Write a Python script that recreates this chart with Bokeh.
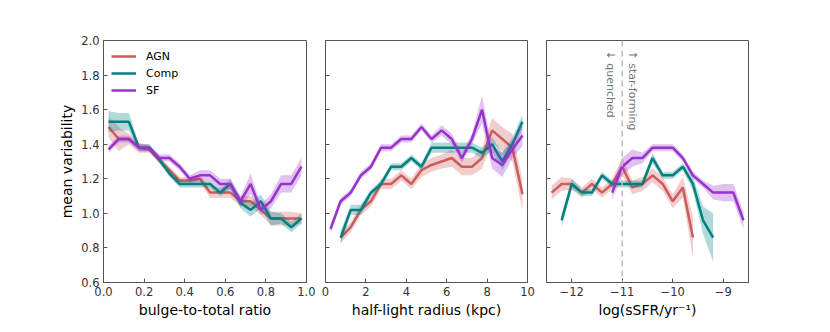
import math
from bokeh.plotting import figure
from bokeh.layouts import row
from bokeh.models import Range1d, FixedTicker, Span, Label, CustomJSTickFormatter
from bokeh.embed import file_html
from bokeh.resources import INLINE

FONT = "DejaVu Sans"
AGN_C = "#cd5c5c"
COMP_C = "#008080"
SF_C = "#9932cc"

# ---- panel 1: bulge-to-total ratio ----
bt_x = [0.025, 0.075, 0.125, 0.175, 0.225, 0.275, 0.325, 0.375, 0.425, 0.475,
        0.525, 0.575, 0.625, 0.675, 0.725, 0.775, 0.825, 0.875, 0.925, 0.975]
bt_agn = [1.50, 1.43, 1.43, 1.38, 1.37, 1.31, 1.25, 1.19, 1.19, 1.20,
          1.12, 1.12, 1.12, 1.07, 1.07, 1.02, 0.97, 0.97, 0.97, 0.97]
bt_agn_err = [0.06, 0.07, 0.03, 0.03, 0.02, 0.02, 0.02, 0.02, 0.02, 0.02,
              0.03, 0.03, 0.03, 0.03, 0.03, 0.03, 0.04, 0.04, 0.04, 0.03]
bt_comp = [1.53, 1.53, 1.53, 1.38, 1.38, 1.31, 1.23, 1.17, 1.17, 1.17,
           1.17, 1.12, 1.17, 1.06, 1.02, 1.07, 0.97, 0.97, 0.92, 0.97]
bt_comp_err = [0.06, 0.05, 0.05, 0.02, 0.02, 0.02, 0.02, 0.02, 0.02, 0.02,
               0.02, 0.02, 0.03, 0.03, 0.04, 0.04, 0.04, 0.03, 0.03, 0.03]
bt_sf = [1.37, 1.43, 1.43, 1.38, 1.38, 1.32, 1.32, 1.27, 1.20, 1.22,
         1.22, 1.17, 1.17, 1.07, 1.17, 1.02, 1.07, 1.17, 1.17, 1.27]
bt_sf_err = [0.02, 0.02, 0.02, 0.02, 0.02, 0.02, 0.02, 0.02, 0.02, 0.03,
             0.03, 0.03, 0.03, 0.03, 0.06, 0.03, 0.04, 0.05, 0.05, 0.05]

# ---- panel 2: half-light radius ----
hl_x = [0.25, 0.75, 1.25, 1.75, 2.25, 2.75, 3.25, 3.75, 4.25, 4.75,
        5.25, 5.75, 6.25, 6.75, 7.25, 7.75, 8.25, 8.75, 9.25, 9.75]
hl_agn_x = hl_x[1:]
hl_agn = [0.86, 0.92, 1.02, 1.07, 1.17, 1.17, 1.22, 1.17, 1.25,
          1.28, 1.30, 1.32, 1.27, 1.27, 1.32, 1.48, 1.43, 1.38, 1.11]
hl_agn_err = [0.03, 0.03, 0.03, 0.03, 0.03, 0.03, 0.03, 0.03, 0.04,
              0.04, 0.04, 0.05, 0.05, 0.05, 0.06, 0.07, 0.07, 0.08, 0.09]
hl_comp_x = hl_x[1:]
hl_comp = [0.86, 1.02, 1.02, 1.12, 1.17, 1.27, 1.27, 1.32, 1.27,
           1.38, 1.38, 1.38, 1.38, 1.38, 1.35, 1.40, 1.30, 1.40, 1.53]
hl_comp_err = [0.04, 0.03, 0.03, 0.02, 0.02, 0.02, 0.02, 0.02, 0.02,
               0.03, 0.03, 0.03, 0.03, 0.03, 0.03, 0.04, 0.05, 0.04, 0.04]
hl_sf = [0.91, 1.07, 1.12, 1.22, 1.27, 1.38, 1.38, 1.43, 1.43, 1.50,
         1.43, 1.48, 1.43, 1.32, 1.43, 1.60, 1.32, 1.28, 1.37, 1.45]
hl_sf_err = [0.03, 0.02, 0.02, 0.02, 0.02, 0.02, 0.02, 0.02, 0.02, 0.02,
             0.02, 0.03, 0.03, 0.03, 0.03, 0.08, 0.06, 0.07, 0.05, 0.06]

# ---- panel 3: log sSFR ----
ss_agn_x = [-12.4, -12.2, -12.0, -11.8, -11.6, -11.4, -11.2, -11.0,
            -10.8, -10.6, -10.4, -10.2, -10.0, -9.8, -9.6]
ss_agn = [1.12, 1.17, 1.17, 1.12, 1.17, 1.12, 1.17, 1.27,
          1.15, 1.17, 1.22, 1.17, 1.07, 1.15, 0.86]
ss_agn_err = [0.04, 0.04, 0.03, 0.03, 0.03, 0.03, 0.03, 0.05,
              0.04, 0.04, 0.04, 0.04, 0.04, 0.06, 0.12]
ss_comp_x = [-12.2, -12.0, -11.8, -11.6, -11.4, -11.2, -11.0, -10.8,
             -10.6, -10.4, -10.2, -10.0, -9.8, -9.6, -9.4, -9.2]
ss_comp = [0.96, 1.17, 1.12, 1.12, 1.22, 1.17, 1.17, 1.17,
           1.17, 1.32, 1.22, 1.22, 1.27, 1.17, 0.96, 0.86]
ss_comp_err = [0.04, 0.03, 0.02, 0.02, 0.02, 0.02, 0.02, 0.02,
               0.02, 0.03, 0.02, 0.02, 0.02, 0.04, 0.08, 0.14]
ss_sf_x = [-11.2, -11.0, -10.8, -10.6, -10.4, -10.2, -10.0, -9.8,
           -9.6, -9.4, -9.2, -9.0, -8.8, -8.6]
ss_sf = [1.12, 1.27, 1.32, 1.32, 1.38, 1.38, 1.38, 1.32,
         1.22, 1.17, 1.12, 1.12, 1.12, 0.96]
ss_sf_err = [0.04, 0.05, 0.05, 0.03, 0.02, 0.02, 0.02, 0.02,
             0.02, 0.02, 0.04, 0.05, 0.05, 0.05]

y_ticks = [0.6, 0.8, 1.0, 1.2, 1.4, 1.6, 1.8, 2.0]
FRAME = "#555555"
TEXT = "#333333"


def make_fig(width, left, right, xr, xticks, xlabel, ylabels=True):
    p = figure(width=width, height=324, output_backend="svg", toolbar_location=None,
               x_range=Range1d(*xr), y_range=Range1d(0.6, 2.0),
               min_border_left=left, min_border_right=right,
               min_border_top=40, min_border_bottom=42)
    p.grid.visible = False
    p.outline_line_color = FRAME
    p.outline_line_width = 1
    p.outline_line_alpha = 1
    p.background_fill_color = "white"
    p.border_fill_color = "white"
    for ax in (p.xaxis[0], p.yaxis[0]):
        ax.axis_line_color = FRAME
        ax.major_tick_line_color = FRAME
        ax.major_tick_in = 4
        ax.major_tick_out = 0
        ax.minor_tick_line_color = None
        ax.major_label_text_font = FONT
        ax.major_label_text_font_size = "11.5px"
        ax.major_label_text_color = TEXT
        ax.axis_label_text_font = FONT
        ax.axis_label_text_font_size = "14px"
        ax.axis_label_text_font_style = "normal"
        ax.axis_label_text_color = "black"
        ax.major_label_standoff = 4
        ax.axis_label_standoff = 3
    p.xaxis.ticker = FixedTicker(ticks=xticks)
    p.yaxis.ticker = FixedTicker(ticks=y_ticks)
    p.xaxis.axis_label = xlabel
    if ylabels:
        p.yaxis.formatter = CustomJSTickFormatter(code="return tick.toFixed(1);")
        p.yaxis.axis_label = "mean variability"
    else:
        p.yaxis.formatter = CustomJSTickFormatter(code="return '';")
        p.yaxis.major_label_standoff = 0
    return p


def add_series(p, x, y, err, color, label=None):
    lo = [a - e for a, e in zip(y, err)]
    hi = [a + e for a, e in zip(y, err)]
    p.varea(x=x, y1=lo, y2=hi, fill_color=color, fill_alpha=0.3)
    kw = {}
    if label:
        kw["legend_label"] = label
    p.line(x, y, line_color=color, line_width=2.5, **kw)


p1 = make_fig(315, 103, 9, (0, 1), [0.0, 0.2, 0.4, 0.6, 0.8, 1.0], "bulge-to-total ratio")
p1.xaxis.formatter = CustomJSTickFormatter(code="return tick.toFixed(1);")
add_series(p1, bt_x, bt_agn, bt_agn_err, AGN_C, "AGN")
add_series(p1, bt_x, bt_comp, bt_comp_err, COMP_C, "Comp")
add_series(p1, bt_x, bt_sf, bt_sf_err, SF_C, "SF")
lg = p1.legend[0]
lg.location = "top_left"
lg.border_line_alpha = 0
lg.background_fill_alpha = 0
lg.label_text_font = FONT
lg.label_text_font_size = "11px"
lg.label_text_color = "black"
lg.glyph_width = 25
lg.glyph_height = 16
lg.label_height = 16
lg.spacing = 1
lg.margin = 0
lg.padding = 8
lg.label_standoff = 10

p2 = make_fig(221, 10, 9, (0, 10), [0, 2, 4, 6, 8, 10], "half-light radius (kpc)", ylabels=False)
add_series(p2, hl_agn_x, hl_agn, hl_agn_err, AGN_C)
add_series(p2, hl_comp_x, hl_comp, hl_comp_err, COMP_C)
add_series(p2, hl_x, hl_sf, hl_sf_err, SF_C)

p3 = make_fig(272, 10, 60, (-12.5, -8.5), [-12, -11, -10, -9], "log(sSFR/yr\u207b\u00b9)", ylabels=False)
p3.xaxis.formatter = CustomJSTickFormatter(code="return (tick < 0 ? '\u2212' + Math.abs(tick) : '' + tick);")
p3.add_layout(Span(location=-11, dimension="height", line_color="#bbbbbb",
                   line_width=1.5, line_dash="6 4"))
add_series(p3, ss_agn_x, ss_agn, ss_agn_err, AGN_C)
add_series(p3, ss_comp_x, ss_comp, ss_comp_err, COMP_C)
add_series(p3, ss_sf_x, ss_sf, ss_sf_err, SF_C)
p3.add_layout(Label(x=-11, y=1.942, x_offset=-5, text="\u2193 quenched", angle=-math.pi / 2,
                    text_align="left", text_baseline="top", text_font=FONT,
                    text_font_size="11px", text_color="#777777"))
p3.add_layout(Label(x=-11, y=1.942, x_offset=4, text="\u2191 star-forming", angle=-math.pi / 2,
                    text_align="left", text_baseline="bottom", text_font=FONT,
                    text_font_size="11px", text_color="#777777"))

layout = row(p1, p2, p3)
open("out.html", "w").write(file_html(layout, INLINE))
